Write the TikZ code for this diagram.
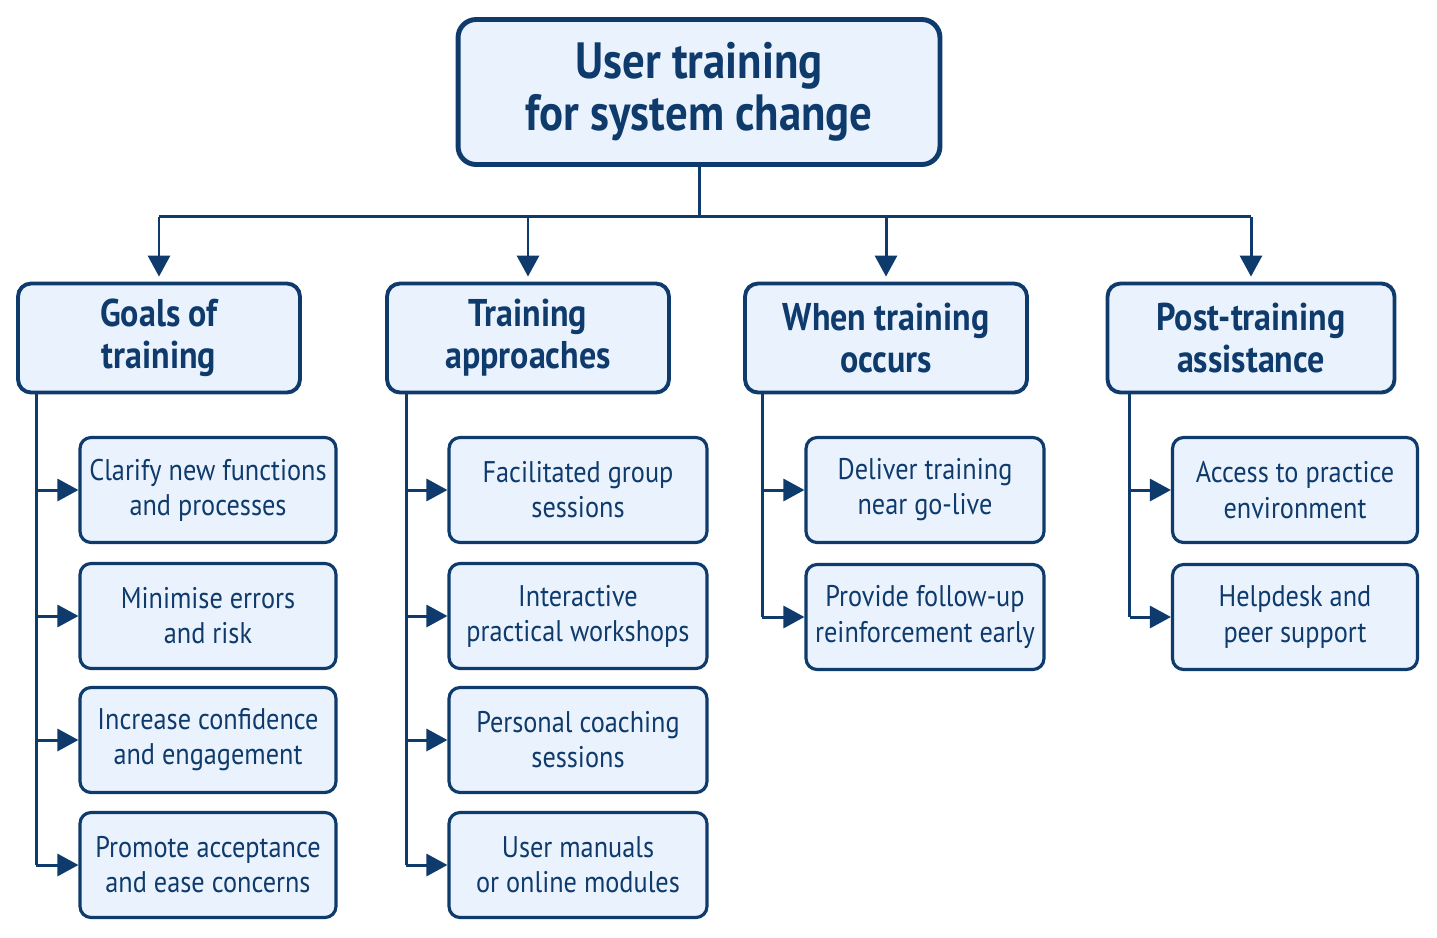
\documentclass[tikz,border=0pt]{standalone}
\usepackage{fontspec}
\setmainfont{PT Sans}[FakeStretch=0.88]
\usetikzlibrary{arrows.meta}
\definecolor{navy}{HTML}{0E3A6C}
\definecolor{boxfill}{HTML}{EAF3FD}

\begin{document}
\begin{tikzpicture}[x=0.02cm, y=-0.02cm,
    titlebox/.style={draw=navy, fill=boxfill, line width=2.8pt, rounded corners=0.36cm,
        minimum width=9.64cm, minimum height=2.9cm, align=center, text=navy,
        font=\bfseries\fontsize{29}{29.5}\selectfont},
    catbox/.style={draw=navy, fill=boxfill, line width=2.2pt, rounded corners=0.26cm,
        minimum width=5.64cm, minimum height=2.18cm, align=center, text=navy,
        font=\bfseries\fontsize{22}{24}\selectfont},
    leafbox/.style={draw=navy, fill=boxfill, line width=1.8pt, rounded corners=0.22cm,
        minimum height=2.1cm, align=center, text=navy,
        font=\fontsize{17}{20}\selectfont},
    link/.style={draw=navy, line width=1.7pt},
    arrow/.style={link, -{Triangle[length=0.42cm, width=0.44cm]}}]
    \useasboundingbox (0,0) rectangle (1437,937);

    % top
    \node[titlebox] (title) at (699,92) {User training\\for system change};

    % categories
    \node[catbox] (goals) at (159,338) {Goals of\\training};
    \node[catbox] (appr) at (528,338) {Training\\approaches};
    \node[catbox] (when) at (886,338) {When training\\occurs};
    \node[catbox, minimum width=5.74cm] (post) at (1251,338) {Post-training\\assistance};

    % goals
    \node[leafbox, minimum width=5.12cm] (g1) at (208,490) {Clarify new functions\\and processes};
    \node[leafbox, minimum width=5.12cm] (g2) at (208,616) {Minimise errors\\and risk};
    \node[leafbox, minimum width=5.12cm] (g3) at (208,740) {Increase confidence\\and engagement};
    \node[leafbox, minimum width=5.12cm] (g4) at (208,865) {Promote acceptance\\and ease concerns};

    % approaches
    \node[leafbox, minimum width=5.16cm] (a1) at (578,490) {Facilitated group\\sessions};
    \node[leafbox, minimum width=5.16cm] (a2) at (578,616) {Interactive\\practical workshops};
    \node[leafbox, minimum width=5.16cm] (a3) at (578,740) {Personal coaching\\sessions};
    \node[leafbox, minimum width=5.16cm] (a4) at (578,865) {User manuals\\or online modules};

    % timing
    \node[leafbox, minimum width=4.76cm] (w1) at (925,490) {Deliver training\\near go-live};
    \node[leafbox, minimum width=4.76cm] (w2) at (925,617) {Provide follow-up\\reinforcement early};

    % assistance
    \node[leafbox, minimum width=4.9cm] (p1) at (1295,490) {Access to practice\\environment};
    \node[leafbox, minimum width=4.9cm] (p2) at (1295,617) {Helpdesk and\\peer support};

    % bus from the title
    \draw[link] (title.south) -- ++(0,50) coordinate (bus);
    \draw[link] (goals.north |- bus) -- (post.north |- bus);
    \foreach \c in {goals, appr, when, post}
        \draw[arrow, shorten >=0.1cm] (\c.north |- bus) -- (\c.north);

    % branches
    \coordinate (gx) at ([xshift=0.4cm]goals.south west);
    \coordinate (ax) at ([xshift=0.42cm]appr.south west);
    \coordinate (wx) at ([xshift=0.38cm]when.south west);
    \coordinate (px) at ([xshift=0.48cm]post.south west);
    \draw[link] (gx) -- (gx |- g4.west);
    \draw[link] (ax) -- (ax |- a4.west);
    \draw[link] (wx) -- (wx |- w2.west);
    \draw[link] (px) -- (px |- p2.west);
    \foreach \n in {g1, g2, g3, g4}
        \draw[arrow] (gx |- \n.west) -- (\n.west);
    \foreach \n in {a1, a2, a3, a4}
        \draw[arrow] (ax |- \n.west) -- (\n.west);
    \foreach \n in {w1, w2}
        \draw[arrow] (wx |- \n.west) -- (\n.west);
    \foreach \n in {p1, p2}
        \draw[arrow] (px |- \n.west) -- (\n.west);
\end{tikzpicture}
\end{document}
